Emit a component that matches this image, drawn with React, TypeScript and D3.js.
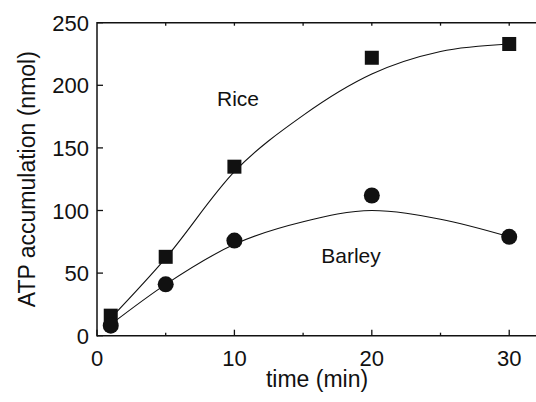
import React, { useEffect } from "react";
import * as d3 from "d3";

// measured points
const times = [1, 5, 10, 20, 30];
const rice = [16, 63, 135, 222, 233];
const barley = [8, 41, 76, 112, 79];

// fitted curves
const fitTimes = [1, 5, 10, 15, 20, 25, 30];
const riceFit = [14, 62, 131, 176, 209, 227, 233];
const barleyFit = [9, 41, 73, 91, 100, 93, 79];

const xMajor = [0, 10, 20, 30];
const xMinor = [5, 15, 25];
const xTop = [5, 10, 15, 20, 25, 30];
const yTicks = [0, 50, 100, 150, 200, 250];

const W = 536;
const H = 402;
const FONT = "'Liberation Sans', Arial, Helvetica, sans-serif";

const App = () => {
  useEffect(() => {
    document.body.style.margin = "0";
  }, []);

  const x = d3.scaleLinear().domain([0, 32]).range([97, 536.7]);
  const y = d3.scaleLinear().domain([0, 250]).range([335.7, 22.7]);

  const line = d3
    .line<number>()
    .x((_, i) => x(fitTimes[i]))
    .y((d) => y(d))
    .curve(d3.curveMonotoneX);

  const x0 = x(0);
  const y0 = y(0);
  const yTop = y(250);

  return (
    <svg width={W} height={H} style={{ display: "block" }} fontFamily={FONT}>
      <rect width={W} height={H} fill="#fff" />

      {/* axes frame */}
      <line x1={x0} x2={W} y1={y0} y2={y0} stroke="#111" strokeWidth={1.5} />
      <line x1={x0} x2={W} y1={yTop} y2={yTop} stroke="#111" strokeWidth={1.5} />
      <line x1={x0} x2={x0} y1={yTop - 0.7} y2={y0 + 0.7} stroke="#111" strokeWidth={1.5} />

      {xMajor.map((t) => (
        <line key={"xm" + t} x1={x(t)} x2={x(t)} y1={y0} y2={y0 - 6} stroke="#111" strokeWidth={1.3} />
      ))}
      {xMinor.map((t) => (
        <line key={"xn" + t} x1={x(t)} x2={x(t)} y1={y0} y2={y0 - 3} stroke="#111" strokeWidth={1.3} />
      ))}
      {xTop.map((t) => (
        <line key={"xt" + t} x1={x(t)} x2={x(t)} y1={yTop} y2={yTop + 3} stroke="#111" strokeWidth={1.3} />
      ))}
      {yTicks.map((t) => (
        <line key={"yt" + t} x1={x0} x2={x0 + 6} y1={y(t)} y2={y(t)} stroke="#111" strokeWidth={1.3} />
      ))}

      {xMajor.map((t) => (
        <text key={"xl" + t} x={x(t)} y={366} textAnchor="middle" fontSize={22} fill="#111">
          {t}
        </text>
      ))}
      {yTicks.map((t) => (
        <text key={"yl" + t} x={89} y={y(t) + 8} textAnchor="end" fontSize={22} fill="#111">
          {t}
        </text>
      ))}

      <text x={317} y={387} textAnchor="middle" fontSize={23} fill="#111">
        time (min)
      </text>
      <text
        transform={`translate(35,${(yTop + y0) / 2}) rotate(-90)`}
        textAnchor="middle"
        fontSize={23}
        fill="#111"
      >
        ATP accumulation (nmol)
      </text>

      {/* fitted curves */}
      <path d={line(riceFit) || ""} fill="none" stroke="#111" strokeWidth={1.1} />
      <path d={line(barleyFit) || ""} fill="none" stroke="#111" strokeWidth={1.1} />

      {/* markers */}
      {rice.map((v, i) => (
        <rect key={"r" + i} x={x(times[i]) - 7} y={y(v) - 7} width={14} height={14} fill="#111" />
      ))}
      {barley.map((v, i) => (
        <circle key={"b" + i} cx={x(times[i])} cy={y(v)} r={8} fill="#111" />
      ))}

      <text x={238} y={106} textAnchor="middle" fontSize={21} fill="#111">
        Rice
      </text>
      <text x={351} y={263} textAnchor="middle" fontSize={21} fill="#111">
        Barley
      </text>
    </svg>
  );
};

export default App;
